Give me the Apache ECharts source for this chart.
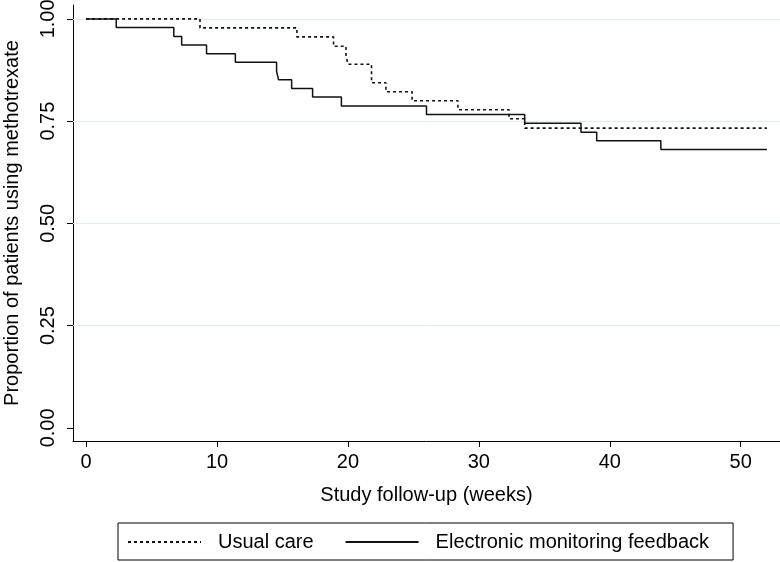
<!DOCTYPE html>
<html>
<head>
<meta charset="utf-8">
<script src="https://cdn.jsdelivr.net/npm/echarts@6/dist/echarts.min.js"></script>
<style>
  html, body { margin: 0; padding: 0; background: #fff; }
  #chart { width: 780px; height: 562px; }
</style>
</head>
<body>
<div id="chart"></div>
<script>
// Kaplan-Meier step data
const seriesNames = ['Usual care', 'Electronic monitoring feedback'];

// Usual care: event weeks and proportion after each event
const weeksUC = [8.7, 16.1, 18.9, 19.85, 20.0, 21.8, 22.9, 24.9, 28.4, 32.3, 33.5];
const survUC  = [0.978, 0.956, 0.933, 0.911, 0.889, 0.844, 0.822, 0.800, 0.778, 0.756, 0.733];

// Electronic monitoring feedback
const weeksEMF = [2.3, 6.7, 7.3, 9.2, 11.4, 14.55, 14.7, 15.7, 17.3, 19.5, 26.0, 33.5, 37.8, 39.0, 43.9];
const survEMF  = [0.979, 0.957, 0.936, 0.915, 0.894, 0.872, 0.851, 0.830, 0.809, 0.787, 0.766, 0.745, 0.723, 0.702, 0.681];

const startWeek = 0;
const endWeek = 52;

const xTicks = [0, 10, 20, 30, 40, 50];
const yTicks = [0, 0.25, 0.5, 0.75, 1.0];
const yGridLines = [0.25, 0.5, 0.75, 1.0];

function stepPoints(weeks, surv) {
  const pts = [[startWeek, 1]];
  let prev = 1;
  for (let i = 0; i < weeks.length; i++) {
    pts.push([weeks[i], prev]);
    pts.push([weeks[i], surv[i]]);
    prev = surv[i];
  }
  pts.push([endWeek, prev]);
  return pts;
}

const FONT = "'Liberation Sans', Arial, Helvetica, sans-serif";
const chart = echarts.init(document.getElementById('chart'), null, { renderer: 'canvas' });

chart.setOption({
  backgroundColor: '#ffffff',
  animation: false,
  textStyle: { fontFamily: FONT, color: '#000' },
  grid: { left: 73, right: 0, top: 5, bottom: 121, containLabel: false, outerBoundsMode: 'none' },
  xAxis: {
    type: 'value',
    min: -1,
    max: 53,
    name: 'Study follow-up (weeks)',
    nameLocation: 'middle',
    nameGap: 44,
    nameTextStyle: { fontSize: 20, color: '#000', fontFamily: FONT },
    axisLine: { show: true, onZero: false, lineStyle: { color: '#000', width: 1 } },
    axisTick: { show: true, length: 6, lineStyle: { color: '#000' }, customValues: xTicks },
    axisLabel: { fontSize: 20, color: '#000', margin: 11, fontFamily: FONT, customValues: xTicks },
    splitLine: { show: false }
  },
  yAxis: {
    type: 'value',
    min: -0.032,
    max: 1.034,
    name: 'Proportion of patients using methotrexate',
    nameLocation: 'middle',
    nameGap: 51,
    nameTextStyle: { fontSize: 20, color: '#000', fontFamily: FONT },
    axisLine: { show: true, onZero: false, lineStyle: { color: '#000', width: 1 } },
    axisTick: { show: true, length: 6, lineStyle: { color: '#000' }, customValues: yTicks },
    axisLabel: {
      fontSize: 20, color: '#000', margin: 15, rotate: 90, fontFamily: FONT,
      customValues: yTicks,
      formatter: v => v.toFixed(2)
    },
    splitLine: { show: false }
  },
  legend: {
    data: seriesNames,
    left: 118,
    top: 523,
    orient: 'horizontal',
    itemWidth: 73,
    itemHeight: 20,
    itemGap: 31,
    borderColor: '#000',
    borderWidth: 1,
    padding: [9, 24, 8, 9],
    itemStyle: { opacity: 0, borderWidth: 0 },
    textStyle: { fontSize: 20, color: '#000', fontFamily: FONT, padding: [0, 0, 0, 12] }
  },
  series: [
    {
      name: seriesNames[0],
      type: 'line',
      symbol: 'none',
      data: stepPoints(weeksUC, survUC),
      lineStyle: { color: '#111', width: 1.6, type: [3, 3] },
      itemStyle: { color: '#111', opacity: 0 },
      z: 3,
      markLine: {
        silent: true,
        symbol: 'none',
        label: { show: false },
        lineStyle: { color: '#e2ecee', width: 1, type: 'solid', opacity: 1 },
        data: yGridLines.map(v => ({ yAxis: v })),
        z: 1
      }
    },
    {
      name: seriesNames[1],
      type: 'line',
      symbol: 'none',
      data: stepPoints(weeksEMF, survEMF),
      lineStyle: { color: '#111', width: 1.5, type: 'solid' },
      itemStyle: { color: '#111', opacity: 0 },
      z: 4
    }
  ]
});
</script>
</body>
</html>
